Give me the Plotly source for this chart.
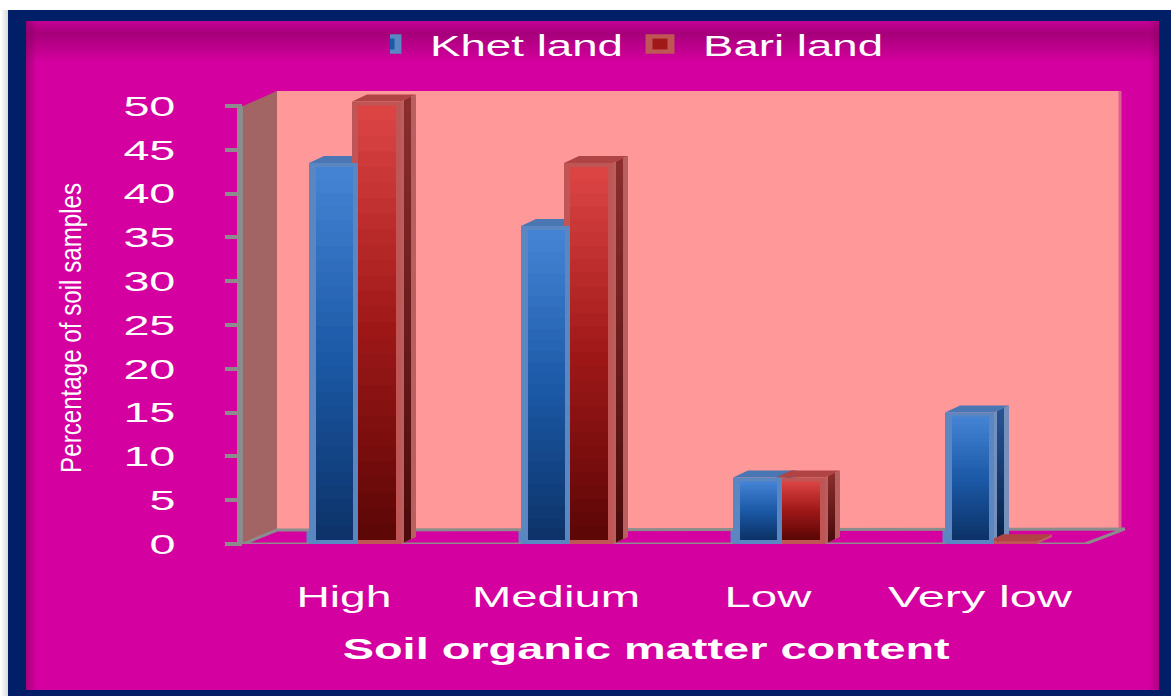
import plotly.graph_objects as go

categories = ["High", "Medium", "Low", "Very low"]
khet_land = [43.5, 36.3, 7.6, 15.0]
bari_land = [50.5, 43.5, 7.6, 0.3]
y_ticks = [0, 5, 10, 15, 20, 25, 30, 35, 40, 45, 50]
legend_names = ["Khet land", "Bari land"]
x_title = "Soil organic matter content"
y_title = "Percentage of soil samples"

W, H = 1171, 696
PL, PR, PT, PB = 243, 1125, 91, 544   # plot area in page pixels
PX_X = 212.0       # pixels per category
PX_Y = 8.76        # pixels per percent
X0 = 344           # page pixel of category 0
xr = [(PL - X0) / PX_X, (PR - X0) / PX_X]
yr = [0, (PB - PT) / PX_Y]
dxu = lambda p: p / PX_X
dyu = lambda p: p / PX_Y
BAND = 28


def mix(stops, t):
    for (a, ca), (b, cb) in zip(stops, stops[1:]):
        if t <= b:
            f = (t - a) / (b - a)
            return "rgb(%d,%d,%d)" % tuple(round(ca[i] + (cb[i] - ca[i]) * f) for i in range(3))
    return "rgb(%d,%d,%d)" % stops[-1][1]


def poly(points_per_bar):
    xs, ys = [], []
    for pts in points_per_bar:
        xs += [p[0] for p in pts] + [pts[0][0], None]
        ys += [p[1] for p in pts] + [pts[0][1], None]
    return xs, ys


fig = go.Figure()


def add_fill(pts, color):
    xs, ys = poly(pts)
    fig.add_trace(go.Scatter(x=xs, y=ys, mode="lines", fill="toself", fillcolor=color,
                             line=dict(width=0, color=color), hoverinfo="skip", showlegend=False))


def series_bar(name, values, left_px, right_px, border):
    cx = [i + dxu((left_px + right_px) / 2) for i in range(len(values))]
    fig.add_trace(go.Bar(x=cx, y=values, width=dxu(right_px - left_px), name=name,
                         marker=dict(color=border, line=dict(color=border, width=5)), hoverinfo="skip"))


def series_back(values, left_px, right_px, top_c, side_edge, side_stops):
    n = range(len(values))
    l = [i + dxu(left_px) for i in n]
    r = [i + dxu(right_px) for i in n]
    DX, DY = dxu(15), dyu(7)
    add_fill([[(r[i], 0), (r[i] + DX, DY), (r[i] + DX, v + DY), (r[i], v)] for i, v in enumerate(values)], side_edge)
    for k in range(BAND):
        t0, t1 = k / BAND, (k + 1) / BAND
        pts = []
        for i, v in enumerate(values):
            a = v * (1 - t1)
            b = v * (1 - t0) + (dyu(0.7) if k else 0)
            pts.append([(r[i] + dxu(3), a + dyu(1.5)), (r[i] + dxu(10), a + dyu(5)),
                        (r[i] + dxu(10), b + dyu(5)), (r[i] + dxu(3), b + dyu(1.5))])
        add_fill(pts, mix(side_stops, (k + .5) / BAND))
    add_fill([[(l[i], v), (l[i] + DX, v + DY), (r[i] + DX, v + DY), (r[i], v)] for i, v in enumerate(values)], top_c)


def series_front(values, left_px, right_px, inset_l, inset_r, border, front_stops):
    n = range(len(values))
    l = [i + dxu(left_px) for i in n]
    r = [i + dxu(right_px) for i in n]
    add_fill([[(l[i], 0), (l[i], v), (r[i], v), (r[i], 0)] for i, v in enumerate(values)], border)
    m = dyu(4)
    for k in range(BAND):
        t0, t1 = k / BAND, (k + 1) / BAND
        pts = []
        for i, v in enumerate(values):
            if v < 2 * m:
                continue
            a = m + (v - 2 * m) * (1 - t1)
            b = m + (v - 2 * m) * (1 - t0) + (dyu(0.7) if k else 0)
            pts.append([(l[i] + dxu(inset_l), a), (l[i] + dxu(inset_l), b), (r[i] - dxu(inset_r), b), (r[i] - dxu(inset_r), a)])
        if pts:
            add_fill(pts, mix(front_stops, (k + .5) / BAND))


GREY = "#8c8c8c"
wall_l = dxu(277 - X0)
wall_r = dxu(1120 - X0)
wall_f = dxu(PL - X0)
front_r = dxu(1085 - X0)
fig.add_trace(go.Scatter(x=[wall_l, wall_r, wall_r, wall_l, wall_l], y=[dyu(14), dyu(14), yr[1], yr[1], dyu(14)], mode="lines",
                         fill="toself", fillcolor="#ff9999", line=dict(width=0), hoverinfo="skip", showlegend=False))
fig.add_trace(go.Scatter(x=[wall_f, wall_l, wall_l, wall_f, wall_f], y=[0, dyu(14), yr[1], 50, 0], mode="lines",
                         fill="toself", fillcolor="#a36464", line=dict(width=0), hoverinfo="skip", showlegend=False))
fig.add_trace(go.Scatter(x=[wall_r, wall_r], y=[dyu(14), yr[1]], mode="lines", line=dict(color="#e0608f", width=3),
                         hoverinfo="skip", showlegend=False))
fig.add_trace(go.Scatter(x=[wall_f, front_r, dxu(1125 - X0), wall_l, wall_f], y=[0, 0, dyu(15), dyu(14), 0], mode="lines",
                         line=dict(color=GREY, width=3), hoverinfo="skip", showlegend=False))

BLUE_STOPS = [(0, (70, 132, 214)), (.5, (28, 90, 168)), (1, (12, 50, 104))]
RED_STOPS = [(0, (222, 70, 70)), (.5, (160, 24, 24)), (1, (92, 6, 6))]
BLUE_L, BLUE_R, RED_L, RED_R = -35, 14, 8, 57
series_bar(legend_names[0], khet_land, BLUE_L, BLUE_R, "#5a86c2")
series_bar(legend_names[1], bari_land, RED_L, RED_R, "#bf5555")
series_back(khet_land, BLUE_L, BLUE_R, "#4a76b4", "#7690bc", [(0, (40, 84, 150)), (1, (6, 34, 74))])
series_back(bari_land, RED_L, RED_R, "#b04444", "#b86060", [(0, (140, 46, 46)), (1, (76, 10, 10))])
series_front(bari_land, RED_L, RED_R, 6, 5, "#bf5555", RED_STOPS)
series_front(khet_land, BLUE_L, BLUE_R, 7, 5, "#5a86c2", BLUE_STOPS)


def pxx(p):
    return (p - PL) / (PR - PL)


def pxy(p):
    return (PB - p) / (PB - PT)


def rect(x0, y0, x1, y1, color):
    return dict(type="rect", xref="paper", yref="paper", x0=pxx(x0), x1=pxx(x1), y0=pxy(y0), y1=pxy(y1),
                fillcolor=color, line=dict(width=0), layer="below")


shapes = [rect(0, 0, W, H, "#ffffff"),
          rect(8, 10, W, H, "#001f66"),
          rect(26, 21, 1159, 690, "#d4009f")]
top_stops = [(0, (196, 0, 148)), (.3, (166, 0, 122)), (1, (212, 0, 159))]
for k in range(40):
    y = 21 + k
    shapes.append(rect(26, y, 1159, y + 1, mix(top_stops, k / 40)))
for k in range(10):
    shapes.append(rect(26 + k, 21, 27 + k, 690, "rgba(120,0,90,%.3f)" % (0.5 * (1 - k / 10))))
    shapes.append(rect(1158 - k, 21, 1159 - k, 690, "rgba(120,0,90,%.3f)" % (0.35 * (1 - k / 10))))
for k in range(8):
    shapes.append(rect(k, 10, k + 1, H, mix([(0, (255, 255, 255)), (1, (215, 215, 215))], k / 8)))
shapes.append(rect(237, 106, 244, 544, GREY))

annotations = [
    dict(text=x_title, xref="paper", yref="paper", x=pxx(646), y=pxy(648), showarrow=False,
         font=dict(family="Liberation Sans", size=30, color="white", weight="bold"), xanchor="center", yanchor="middle"),
    dict(text=y_title, xref="paper", yref="paper", x=pxx(70), y=pxy(328), showarrow=False, textangle=-90,
         font=dict(family="Liberation Sans", size=30, color="white"), xanchor="center", yanchor="middle"),
]

fig.update_layout(
    width=W, height=H, autosize=False, margin=dict(l=PL, r=W - PR, t=PT, b=H - PB, pad=0),
    paper_bgcolor="#ffffff", plot_bgcolor="rgba(0,0,0,0)", barmode="overlay", shapes=shapes, annotations=annotations,
    showlegend=True,
    legend=dict(orientation="h", x=pxx(390), y=pxy(18), xanchor="left", yanchor="top", bgcolor="rgba(0,0,0,0)",
                font=dict(family="Liberation Sans", size=30, color="white"), entrywidth=228, entrywidthmode="pixels",
                itemwidth=30, traceorder="normal"),
    xaxis=dict(range=xr, tickvals=list(range(len(categories))), ticktext=categories, showgrid=False, zeroline=False,
               showline=False, ticks="", ticklabelstandoff=32, tickfont=dict(family="Liberation Sans", size=30, color="white")),
    yaxis=dict(range=yr, tickvals=y_ticks, showgrid=False, zeroline=False, showline=False, ticks="outside", ticklen=17,
               tickwidth=4, tickcolor=GREY, ticklabelstandoff=44,
               tickfont=dict(family="Liberation Sans", size=28, color="white")),
)

stretch = {"Khet land": 193, "Bari land": 180, "Soil organic matter content": 607, "Percentage of soil samples": 290,
           "High": 95, "Medium": 168, "Low": 87, "Very low": 184}
post = """
document.documentElement.style.margin='0';document.body.style.margin='0';document.body.style.overflow='hidden';
var stretch=%s;
function fit(){document.querySelectorAll('svg text').forEach(function(t){
 var s=t.textContent;var w=stretch[s];
 if(!w&&/^\\d+$/.test(s)){w=s.length*26;}
 if(w){t.setAttribute('textLength',w);t.setAttribute('lengthAdjust','spacingAndGlyphs');}
});}
function swatch(){var inner=['#1a5aa8','#a01818'];
 document.querySelectorAll('.legendpoints').forEach(function(g,i){
  var p=g.querySelector('path');if(!p||g.querySelector('.inner'))return;
  var q=p.cloneNode(true);q.setAttribute('class','inner');
  q.style.fill=inner[i%%2];q.style.stroke='none';
  q.setAttribute('transform','translate(-3,0) scale(1.25,0.9)');
  p.setAttribute('transform','translate(-3,0) scale(1.7,1.15)');
  g.appendChild(q);
 });}
fit();swatch();setTimeout(function(){fit();swatch();},50);
""" % (str(stretch))
fig.write_html("out.html", post_script=post, config={"displayModeBar": False})
